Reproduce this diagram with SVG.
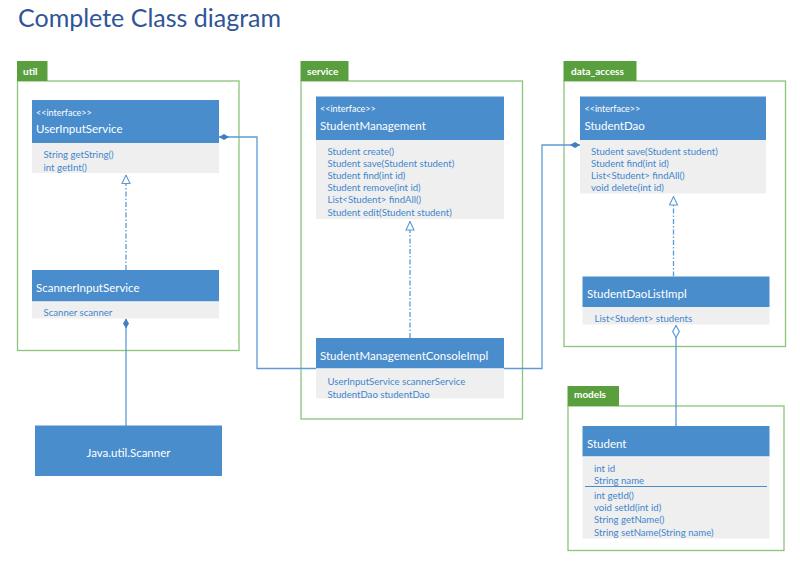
<svg xmlns="http://www.w3.org/2000/svg" width="800" height="564" viewBox="0 0 800 564">
<style>
text{font-family:Lato,"Open Sans","Liberation Sans",sans-serif}
.title{font-size:25px;fill:#2f5597}
.pkg{fill:#fff;stroke:#8cc479;stroke-width:1.3}
.tab{fill:#5a9f3e}
.tabt{font-size:10px;fill:#fff;font-weight:bold}
.hdr{fill:#4a8dcc}
.body{fill:#efefef}
.st{font-size:9px;fill:#fff}
.nm{font-size:11.5px;fill:#fff}
.m{font-size:9.6px;fill:#3f86cd}
.cn{fill:none;stroke:#5d9ad6;stroke-width:1.3}
.dash{stroke-dasharray:5,2,1.5,2}
</style>
<defs>
<marker id="dmf" viewBox="0 0 10 6" refX="10" refY="3" markerWidth="10" markerHeight="6" markerUnits="userSpaceOnUse" orient="auto"><path d="M0,3 L5,0 L10,3 L5,6 Z" fill="#3f7fc2"/></marker>
<marker id="dmh" viewBox="0 0 13 8" refX="12.5" refY="4" markerWidth="13" markerHeight="8" markerUnits="userSpaceOnUse" orient="auto"><path d="M0.5,4 L6.5,0.7 L12.5,4 L6.5,7.3 Z" fill="#fff" stroke="#5d9ad6" stroke-width="1.2"/></marker>
<marker id="tri" viewBox="0 0 10 10" refX="9.5" refY="5" markerWidth="10" markerHeight="10" markerUnits="userSpaceOnUse" orient="auto"><path d="M1,1 L9.5,5 L1,9 Z" fill="#fff" stroke="#5d9ad6" stroke-width="1.1"/></marker>
</defs>
<rect width="800" height="564" fill="#fff"/>
<text class="title" x="18" y="27">Complete Class diagram</text>

<g id="pkg-util">
<rect class="pkg" x="17.5" y="81" width="221.5" height="269.5"/>
<rect class="tab" x="17" y="61" width="30.5" height="20"/>
<text class="tabt" x="23" y="74.5">util</text>
</g>
<g id="pkg-service">
<rect class="pkg" x="301" y="81" width="221.5" height="338"/>
<rect class="tab" x="300.5" y="61" width="48" height="20"/>
<text class="tabt" x="307" y="74.5">service</text>
</g>
<g id="pkg-data_access">
<rect class="pkg" x="564" y="81" width="221.5" height="265.5"/>
<rect class="tab" x="563.5" y="61" width="73" height="20"/>
<text class="tabt" x="571" y="74.5">data_access</text>
</g>
<g id="pkg-models">
<rect class="pkg" x="568" y="406" width="216" height="144.5"/>
<rect class="tab" x="567.5" y="386" width="51.5" height="20"/>
<text class="tabt" x="574" y="398">models</text>
</g>

<g id="connectors">
<path class="cn dash" d="M126,270 V175" marker-end="url(#tri)"/>
<path class="cn dash" d="M410,338 V221.5" marker-end="url(#tri)"/>
<path class="cn dash" d="M673.5,276.5 V196.5" marker-end="url(#tri)"/>
<path class="cn" d="M316,368.5 H257 V137 H219" marker-end="url(#dmf)"/>
<path class="cn" d="M504,368.5 H542 V145 H580" marker-end="url(#dmf)"/>
<path class="cn" d="M126,426 V318.5" marker-end="url(#dmf)"/>
<path class="cn" d="M676,426 V325.5" marker-end="url(#dmh)"/>
</g>

<g id="UserInputService">
<rect class="hdr" x="32" y="100" width="187" height="43"/>
<rect class="body" x="32" y="143" width="187" height="30"/>
<text class="st" x="36" y="115.5">&lt;&lt;interface&gt;&gt;</text>
<text class="nm" x="36" y="133">UserInputService</text>
<text class="m" x="43.5" y="158">String getString()</text>
<text class="m" x="43.5" y="170.5">int getInt()</text>
</g>
<g id="ScannerInputService">
<rect class="hdr" x="32" y="270" width="187" height="31.5"/>
<rect class="body" x="32" y="301.5" width="187" height="17"/>
<text class="nm" x="36" y="291.5">ScannerInputService</text>
<text class="m" x="43.5" y="315.5">Scanner scanner</text>
</g>
<g id="JavaUtilScanner">
<rect class="hdr" x="35" y="425.5" width="187" height="50.5"/>
<text class="nm" x="128.5" y="457" text-anchor="middle">Java.util.Scanner</text>
</g>
<g id="StudentManagement">
<rect class="hdr" x="316" y="96.5" width="188" height="43.5"/>
<rect class="body" x="316" y="140" width="188" height="79"/>
<text class="st" x="320" y="111.5">&lt;&lt;interface&gt;&gt;</text>
<text class="nm" x="320" y="129.5">StudentManagement</text>
<text class="m" x="327.5" y="154.5">Student create()</text>
<text class="m" x="327.5" y="166.7">Student save(Student student)</text>
<text class="m" x="327.5" y="178.9">Student find(int id)</text>
<text class="m" x="327.5" y="191.1">Student remove(int id)</text>
<text class="m" x="327.5" y="203.3">List&lt;Student&gt; findAll()</text>
<text class="m" x="327.5" y="215.5">Student edit(Student student)</text>
</g>
<g id="StudentManagementConsoleImpl">
<rect class="hdr" x="316" y="338" width="188" height="30.5"/>
<rect class="body" x="316" y="368.5" width="188" height="30"/>
<text class="nm" x="320" y="360">StudentManagementConsoleImpl</text>
<text class="m" x="327.5" y="385">UserInputService scannerService</text>
<text class="m" x="327.5" y="397.5">StudentDao studentDao</text>
</g>
<g id="StudentDao">
<rect class="hdr" x="580" y="96.5" width="186" height="43.5"/>
<rect class="body" x="580" y="140" width="186" height="53.5"/>
<text class="st" x="584.5" y="111.5">&lt;&lt;interface&gt;&gt;</text>
<text class="nm" x="584.5" y="129.5">StudentDao</text>
<text class="m" x="591" y="154.5">Student save(Student student)</text>
<text class="m" x="591" y="166.7">Student find(int id)</text>
<text class="m" x="591" y="178.9">List&lt;Student&gt; findAll()</text>
<text class="m" x="591" y="191.1">void delete(int id)</text>
</g>
<g id="StudentDaoListImpl">
<rect class="hdr" x="582.5" y="276.5" width="187" height="30.5"/>
<rect class="body" x="582.5" y="307" width="187" height="17.5"/>
<text class="nm" x="587" y="298">StudentDaoListImpl</text>
<text class="m" x="594.5" y="321.5">List&lt;Student&gt; students</text>
</g>
<g id="Student">
<rect class="hdr" x="582.5" y="426" width="187" height="30.5"/>
<rect class="body" x="582.5" y="456.5" width="187" height="82"/>
<text class="nm" x="587" y="447.5">Student</text>
<text class="m" x="594" y="471.5">int id</text>
<text class="m" x="594" y="483.5">String name</text>
<line x1="585" y1="486.5" x2="767" y2="486.5" stroke="#4a8dcc" stroke-width="1"/>
<text class="m" x="594" y="498.5">int getId()</text>
<text class="m" x="594" y="511">void setId(int id)</text>
<text class="m" x="594" y="523.3">String getName()</text>
<text class="m" x="594" y="535.5">String setName(String name)</text>
</g>
</svg>
